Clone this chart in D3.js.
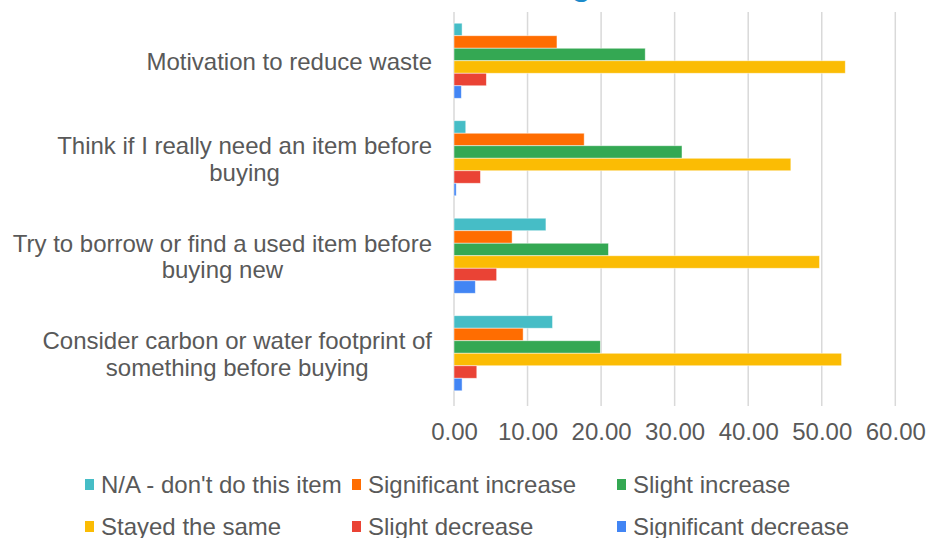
<!DOCTYPE html>
<html>
<head>
<meta charset="utf-8">
<script src="https://cdn.jsdelivr.net/npm/d3@7"></script>
<style>
  html, body { margin: 0; padding: 0; background: #fff; }
  svg { display: block; }
  text { font-family: "Liberation Sans", Arial, sans-serif; }
</style>
</head>
<body>
<svg id="chart" width="942" height="538"></svg>
<script>
const categories = [
  ["Motivation to reduce waste"],
  ["Think if I really need an item before", "buying"],
  ["Try to borrow or find a used item before", "buying new"],
  ["Consider carbon or water footprint of", "something before buying"]
];
const seriesNames = ["N/A - don't do this item", "Significant increase", "Slight increase",
                     "Stayed the same", "Slight decrease", "Significant decrease"];
const seriesColors = ["#46BDC6", "#FF6D01", "#34A853", "#FBBC04", "#EA4335", "#4285F4"];
const naValues          = [1.1, 1.6, 12.5, 13.4];
const sigIncValues      = [14.0, 17.7, 7.9, 9.4];
const slightIncValues   = [26.0, 31.0, 21.0, 19.9];
const sameValues        = [53.2, 45.8, 49.7, 52.7];
const slightDecValues   = [4.4, 3.6, 5.8, 3.1];
const sigDecValues      = [1.0, 0.3, 2.9, 1.1];
const xTicks = [0, 10, 20, 30, 40, 50, 60];

const seriesValues = [naValues, sigIncValues, slightIncValues, sameValues, slightDecValues, sigDecValues];

const svg = d3.select("#chart");
const plotLeft = 454, plotRight = 895.3, plotTop = 12, plotBottom = 402;
const textColor = "#595959";
const fontSize = 24;

// title (mostly cut off above the frame)
svg.append("text")
  .attr("x", 591).attr("y", -5)
  .attr("text-anchor", "end")
  .attr("font-size", 32).attr("font-weight", "bold")
  .attr("fill", "#1C8BCB")
  .text("Attitudes to Purchasing");

const x = d3.scaleLinear().domain([0, 60]).range([plotLeft, plotRight]);
const y = d3.scaleBand().domain(d3.range(categories.length)).range([plotTop, plotBottom])
  .paddingInner(0.23).paddingOuter(0.115);
const ySub = d3.scaleBand().domain(d3.range(seriesNames.length)).range([0, y.bandwidth()]);

// gridlines
svg.append("g").selectAll("line").data(xTicks).join("line")
  .attr("x1", d => x(d)).attr("x2", d => x(d))
  .attr("y1", plotTop).attr("y2", plotBottom + 4)
  .attr("stroke", "#d9d9d9").attr("stroke-width", 1.5);

// bars
const groups = svg.append("g").selectAll("g").data(categories).join("g")
  .attr("transform", (d, i) => `translate(0,${y(i)})`);
groups.each(function(d, ci) {
  d3.select(this).selectAll("rect").data(seriesValues.map((s, si) => ({si, v: s[ci]})))
    .join("rect")
    .attr("x", x(0))
    .attr("y", e => ySub(e.si))
    .attr("width", e => x(e.v) - x(0))
    .attr("height", ySub.bandwidth())
    .attr("fill", e => seriesColors[e.si])
    .attr("stroke", "rgba(255,255,255,0.6)")
    .attr("stroke-width", 0.8);
});

// x axis labels
const xAxis = d3.axisBottom(x).tickValues(xTicks).tickFormat(d3.format(".2f")).tickSize(0).tickPadding(0);
const xg = svg.append("g").attr("transform", `translate(0,${plotBottom})`).call(xAxis);
xg.select(".domain").remove();
xg.selectAll("text")
  .attr("y", 38).attr("dy", 0)
  .attr("font-size", fontSize).attr("fill", textColor)
  .style("font-family", '"Liberation Sans", Arial, sans-serif');

// category labels (centered block, right aligned)
const labelRight = 432;
const lineH = 26.5;
categories.forEach((lines, i) => {
  const cy = y(i) + y.bandwidth() / 2;
  const g = svg.append("g");
  const texts = g.selectAll("text").data(lines).join("text")
    .attr("font-size", fontSize).attr("fill", textColor)
    .attr("text-anchor", "middle")
    .attr("dominant-baseline", "central")
    .attr("y", (d, k) => cy + 0.5 + (k - (lines.length - 1) / 2) * lineH)
    .text(d => d);
  let maxW = 0;
  texts.each(function() { maxW = Math.max(maxW, this.getComputedTextLength()); });
  texts.attr("x", labelRight - maxW / 2);
});

// legend
const legCols = [85, 352, 617];
const legRows = [484.5, 526.5];
const legend = svg.append("g").selectAll("g").data(seriesNames).join("g")
  .attr("transform", (d, i) => `translate(${legCols[i % 3]},${legRows[Math.floor(i / 3)]})`);
legend.append("rect")
  .attr("x", 0).attr("y", -5.5).attr("width", 9).attr("height", 11)
  .attr("fill", (d, i) => seriesColors[i]);
legend.append("text")
  .attr("x", 16).attr("y", 0)
  .attr("dominant-baseline", "central")
  .attr("font-size", fontSize).attr("fill", textColor)
  .text(d => d);
</script>
</body>
</html>
